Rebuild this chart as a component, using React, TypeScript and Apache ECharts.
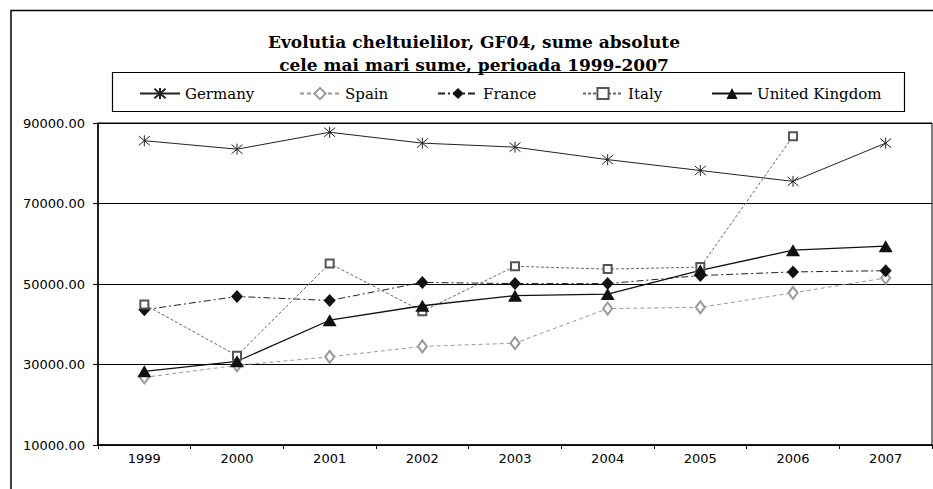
import React, { useEffect, useRef } from "react";
import * as echarts from "echarts";

const years = ["1999", "2000", "2001", "2002", "2003", "2004", "2005", "2006", "2007"];
const germany = [85600, 83500, 87700, 85000, 84000, 80900, 78200, 75500, 85000];
const spain = [26800, 29800, 31900, 34500, 35300, 43900, 44200, 47800, 51500];
const france = [43600, 46900, 45900, 50400, 50100, 50100, 52100, 53000, 53300];
const italy: (number | null)[] = [44900, 32200, 55100, 43200, 54400, 53700, 54200, 86700, null];
const uk = [28300, 30800, 41000, 44600, 47100, 47500, 53400, 58400, 59400];
const titleLines = ["Evolutia cheltuielilor, GF04, sume absolute", "cele mai mari sume, perioada 1999-2007"];

const asterisk = "path://M0 0L10 10M10 0L0 10M5 -1L5 11";

export default function App() {
  const ref = useRef<HTMLDivElement>(null);
  useEffect(() => {
    if (!ref.current) return;
    const chart = echarts.init(ref.current, null, { renderer: "svg" });
    const legendFont = { fontFamily: "DejaVu Serif", fontSize: 15, color: "#000" };
    const legendItem = (name: string, left: number) => ({
      data: [name],
      left,
      top: 86,
      padding: 0,
      itemGap: 0,
      itemWidth: 40,
      itemHeight: 14,
      textStyle: legendFont,
      selectedMode: false,
    });
    chart.setOption({
      animation: false,
      backgroundColor: "#fff",
      title: {
        text: titleLines.join("\n"),
        left: 474,
        top: 30,
        textAlign: "center",
        padding: 0,
        textStyle: {
          fontFamily: "DejaVu Serif",
          fontWeight: "bold",
          fontSize: 17,
          lineHeight: 23,
          color: "#000",
        },
      },
      graphic: [
        {
          type: "rect",
          shape: { x: 11, y: 10.5, width: 1000, height: 600 },
          style: { fill: "none", stroke: "#000", lineWidth: 1.5 },
          silent: true,
        },
        {
          type: "rect",
          shape: { x: 112.5, y: 72.5, width: 792, height: 39 },
          style: { fill: "none", stroke: "#000", lineWidth: 1.2 },
          silent: true,
        },
      ],
      legend: [
        legendItem("Germany", 139),
        legendItem("Spain", 299),
        legendItem("France", 437),
        legendItem("Italy", 582),
        legendItem("United Kingdom", 711),
      ],
      grid: {
        left: 98,
        right: 1,
        top: 123,
        bottom: 44,
        show: true,
        borderColor: "#000",
        borderWidth: 1,
        backgroundColor: "transparent",
      },
      xAxis: {
        type: "category",
        data: years,
        boundaryGap: true,
        axisLine: { lineStyle: { color: "#000", width: 1.5 } },
        axisTick: { show: true, length: 4, lineStyle: { color: "#000" } },
        axisLabel: { fontFamily: "DejaVu Sans", fontSize: 13, color: "#000", margin: 7 },
        splitLine: { show: false },
      },
      yAxis: {
        type: "value",
        min: 10000,
        max: 90000,
        interval: 20000,
        axisLine: { show: true, lineStyle: { color: "#000", width: 1.5 } },
        axisTick: { show: true, length: 5, lineStyle: { color: "#000" } },
        axisLabel: {
          fontFamily: "DejaVu Sans",
          fontSize: 13,
          color: "#000",
          margin: 13,
          formatter: (v: number) => v.toFixed(2),
        },
        splitLine: { show: true, lineStyle: { color: "#000", width: 1 } },
      },
      series: [
        {
          name: "Germany",
          type: "line",
          data: germany,
          symbol: asterisk,
          symbolSize: 11,
          lineStyle: { color: "#222", width: 1, type: "solid" },
          itemStyle: { color: "#222", borderColor: "#222", borderWidth: 1 },
        },
        {
          name: "Spain",
          type: "line",
          data: spain,
          symbol: "emptyDiamond",
          symbolSize: [9, 12],
          lineStyle: { color: "#999", width: 1, type: [4, 3] },
          itemStyle: { color: "#999", borderColor: "#999", borderWidth: 1 },
        },
        {
          name: "France",
          type: "line",
          data: france,
          symbol: "diamond",
          symbolSize: [12, 13],
          lineStyle: { color: "#222", width: 1, type: [7, 3, 2, 3] },
          itemStyle: { color: "#111", borderColor: "#111", borderWidth: 0 },
        },
        {
          name: "Italy",
          type: "line",
          data: italy,
          symbol: "emptyRect",
          symbolSize: 8,
          connectNulls: false,
          lineStyle: { color: "#666", width: 1, type: [3, 2] },
          itemStyle: { color: "#555", borderColor: "#444", borderWidth: 1.5 },
        },
        {
          name: "United Kingdom",
          type: "line",
          data: uk,
          symbol: "triangle",
          symbolSize: [14, 12],
          lineStyle: { color: "#111", width: 1.3, type: "solid" },
          itemStyle: { color: "#111", borderColor: "#111", borderWidth: 0 },
        },
      ],
    });
    return () => chart.dispose();
  }, []);
  return (
    <div
      ref={ref}
      style={{ position: "absolute", left: 0, top: 0, width: 933, height: 489, background: "#fff" }}
    />
  );
}
